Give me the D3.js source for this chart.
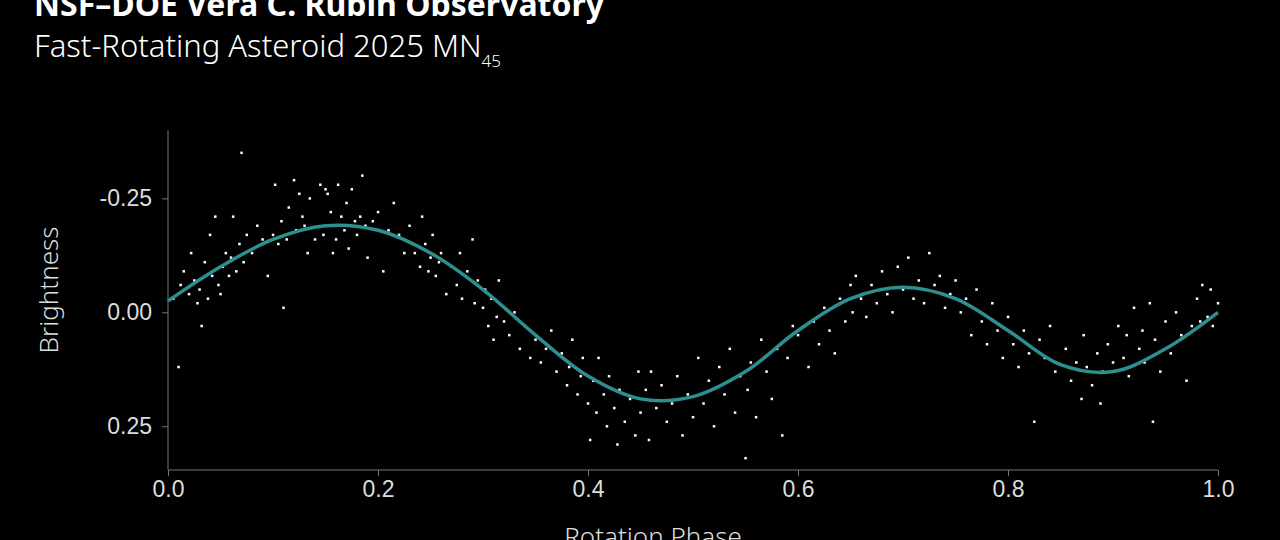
<!DOCTYPE html>
<html>
<head>
<meta charset="utf-8">
<script src="https://cdn.jsdelivr.net/npm/d3@7"></script>
<style>
  html, body { margin: 0; background: #000; }
  svg { display: block; font-family: "Noto Sans", "Open Sans", sans-serif; }
  .tick text { fill: #ddd; font-size: 23px; font-weight: 300; }
  .domain, .tick line { stroke: #777; }
</style>
</head>
<body>
<svg width="1280" height="540"></svg>
<script>
var xTicks = [0, 0.2, 0.4, 0.6, 0.8, 1.0];
var yTicks = [-0.25, 0, 0.25];

// fitted light curve
var fitPhase = [0, 0.05, 0.1, 0.15, 0.2, 0.25, 0.3, 0.35, 0.4, 0.45, 0.5, 0.55, 0.6, 0.65, 0.7, 0.75, 0.8, 0.85, 0.9, 0.95, 1.0];
var fitBright = [-0.025, -0.1, -0.16, -0.19, -0.18, -0.13, -0.05, 0.05, 0.14, 0.19, 0.185, 0.13, 0.04, -0.03, -0.055, -0.03, 0.04, 0.115, 0.13, 0.08, 0.0];

// observations [phase, brightness]
var obs = [
  [0.005,-0.03],[0.01,0.12],[0.012,-0.06],[0.015,-0.09],[0.02,-0.04],[0.022,-0.13],[0.025,-0.07],[0.028,-0.02],[0.03,-0.05],[0.032,0.03],[0.035,-0.11],[0.038,-0.03],[0.04,-0.17],[0.042,-0.08],[0.045,-0.21],[0.048,-0.06],[0.05,-0.04],
  [0.052,-0.1],[0.055,-0.13],[0.058,-0.08],[0.06,-0.12],[0.062,-0.21],[0.065,-0.09],[0.068,-0.15],[0.07,-0.35],[0.072,-0.11],[0.075,-0.17],[0.08,-0.13],[0.085,-0.19],[0.09,-0.16],[0.095,-0.08],[0.1,-0.17],
  [0.102,-0.28],[0.105,-0.15],[0.108,-0.2],[0.11,-0.01],[0.113,-0.16],[0.115,-0.23],[0.12,-0.29],[0.122,-0.18],[0.125,-0.26],[0.128,-0.21],[0.13,-0.19],[0.133,-0.13],[0.135,-0.25],[0.14,-0.16],[0.145,-0.28],[0.148,-0.17],[0.15,-0.27],
  [0.152,-0.26],[0.155,-0.22],[0.157,-0.13],[0.16,-0.16],[0.162,-0.28],[0.165,-0.21],[0.168,-0.18],[0.17,-0.24],[0.172,-0.14],[0.175,-0.27],[0.178,-0.2],[0.18,-0.17],[0.183,-0.21],[0.185,-0.3],[0.188,-0.19],[0.19,-0.12],[0.195,-0.2],[0.2,-0.22],
  [0.205,-0.09],[0.21,-0.18],[0.215,-0.24],[0.22,-0.17],[0.225,-0.13],[0.23,-0.19],[0.235,-0.13],[0.24,-0.1],[0.242,-0.21],[0.245,-0.15],[0.248,-0.09],[0.25,-0.12],
  [0.252,-0.17],[0.255,-0.08],[0.258,-0.11],[0.26,-0.13],[0.265,-0.04],[0.27,-0.1],[0.275,-0.06],[0.278,-0.13],[0.28,-0.03],[0.285,-0.09],[0.29,-0.16],[0.292,-0.02],[0.295,-0.07],[0.3,-0.01],
  [0.302,-0.05],[0.305,0.03],[0.308,-0.03],[0.31,0.06],[0.313,0.01],[0.315,-0.07],[0.32,0.02],[0.325,0.05],[0.33,0.0],[0.335,0.08],[0.34,0.03],[0.345,0.1],[0.35,0.06],
  [0.355,0.11],[0.36,0.08],[0.365,0.04],[0.37,0.13],[0.375,0.09],[0.38,0.16],[0.382,0.12],[0.385,0.06],[0.39,0.18],[0.393,0.14],[0.395,0.1],[0.4,0.2],
  [0.402,0.28],[0.405,0.15],[0.408,0.22],[0.41,0.1],[0.415,0.18],[0.418,0.25],[0.42,0.14],[0.425,0.21],[0.428,0.29],[0.43,0.17],[0.435,0.24],[0.44,0.19],[0.445,0.27],[0.448,0.13],[0.45,0.22],
  [0.455,0.17],[0.458,0.28],[0.46,0.13],[0.465,0.21],[0.47,0.16],[0.475,0.24],[0.48,0.2],[0.485,0.14],[0.49,0.27],[0.495,0.18],[0.5,0.23],
  [0.505,0.1],[0.51,0.2],[0.515,0.15],[0.52,0.25],[0.525,0.12],[0.53,0.18],[0.535,0.08],[0.54,0.22],[0.545,0.14],[0.55,0.32],[0.552,0.17],
  [0.555,0.11],[0.56,0.23],[0.565,0.06],[0.57,0.13],[0.575,0.19],[0.58,0.08],[0.585,0.27],[0.59,0.1],[0.595,0.03],[0.6,0.05],
  [0.61,0.12],[0.615,0.02],[0.62,0.07],[0.625,-0.01],[0.63,0.04],[0.635,0.09],[0.64,-0.03],[0.645,0.02],[0.65,-0.06],[0.652,0.0],
  [0.655,-0.08],[0.66,-0.03],[0.665,0.01],[0.67,-0.06],[0.675,-0.02],[0.68,-0.09],[0.685,-0.04],[0.69,0.0],[0.695,-0.1],[0.7,-0.05],
  [0.705,-0.12],[0.71,-0.03],[0.715,-0.07],[0.72,-0.02],[0.725,-0.13],[0.73,-0.06],[0.735,-0.08],[0.74,-0.01],[0.745,-0.04],[0.75,-0.07],
  [0.755,0.0],[0.76,-0.03],[0.765,0.05],[0.77,-0.05],[0.775,0.02],[0.78,0.07],[0.785,-0.02],[0.79,0.04],[0.795,0.1],[0.8,0.01],
  [0.805,0.07],[0.81,0.12],[0.815,0.04],[0.82,0.09],[0.825,0.24],[0.83,0.06],[0.835,0.1],[0.84,0.03],[0.845,0.13],
  [0.855,0.08],[0.86,0.15],[0.865,0.11],[0.87,0.19],[0.872,0.05],[0.875,0.12],[0.88,0.16],[0.885,0.09],[0.888,0.2],[0.89,0.13],[0.895,0.07],[0.9,0.11],
  [0.905,0.03],[0.91,0.1],[0.913,0.05],[0.915,0.14],[0.92,-0.01],[0.925,0.08],[0.928,0.04],[0.93,0.11],[0.935,-0.02],[0.938,0.24],[0.94,0.06],[0.945,0.13],[0.95,0.02],
  [0.955,0.09],[0.96,0.0],[0.965,0.05],[0.97,0.15],[0.975,0.03],[0.98,-0.03],[0.983,0.02],[0.985,-0.06],[0.99,0.01],[0.993,-0.05],[0.995,0.03],[1.0,-0.02]
];

var svg = d3.select('svg');
var x = d3.scaleLinear().domain([0, 1]).range([168, 1218]);
var y = d3.scaleLinear().domain([-0.4, 0.346]).range([130, 470]);

svg.append('g')
  .attr('transform', 'translate(0,470)')
  .call(d3.axisBottom(x).tickValues(xTicks).tickFormat(d3.format('.1f')).tickSize(6).tickPadding(5))
  .call(function (g) { g.select('.domain').attr('d', 'M168,0H1218'); });

svg.append('g')
  .attr('transform', 'translate(168,0)')
  .call(d3.axisLeft(y).tickValues(yTicks)
    .tickFormat(function (d) { return d3.format('.2f')(d).replace('−', '-'); })
    .tickSize(6).tickPadding(10))
  .call(function (g) { g.select('.domain').attr('d', 'M0,130V470'); });

svg.append('g').selectAll('rect')
  .data(obs)
  .enter().append('rect')
  .attr('x', function (d) { return x(d[0]) - 1.2; })
  .attr('y', function (d) { return y(d[1]) - 1.2; })
  .attr('width', 2.5)
  .attr('height', 2.5)
  .attr('fill', '#fff');

var line = d3.line()
  .x(function (d, i) { return x(fitPhase[i]); })
  .y(function (d) { return y(d); })
  .curve(d3.curveCatmullRom);

svg.append('path')
  .attr('d', line(fitBright))
  .attr('fill', 'none')
  .attr('stroke', '#2e8f8f')
  .attr('stroke-width', 3.5);

svg.append('text').attr('x', 34).attr('y', 16)
  .attr('fill', '#fff').attr('font-size', 32).attr('font-weight', 700)
  .text('NSF–DOE Vera C. Rubin Observatory');

var sub = svg.append('text').attr('x', 34).attr('y', 57)
  .attr('fill', '#fff').attr('font-size', 31).attr('font-weight', 300)
  .text('Fast-Rotating Asteroid 2025 MN');
sub.append('tspan').attr('font-size', 17).attr('dy', 10).text('45');

svg.append('text')
  .attr('transform', 'translate(58,290) rotate(-90)')
  .attr('text-anchor', 'middle')
  .attr('fill', '#ddd').attr('font-size', 26).attr('font-weight', 300)
  .text('Brightness');

svg.append('text')
  .attr('x', 653).attr('y', 546)
  .attr('text-anchor', 'middle')
  .attr('fill', '#ddd').attr('font-size', 26).attr('font-weight', 300)
  .text('Rotation Phase');
</script>
</body>
</html>
